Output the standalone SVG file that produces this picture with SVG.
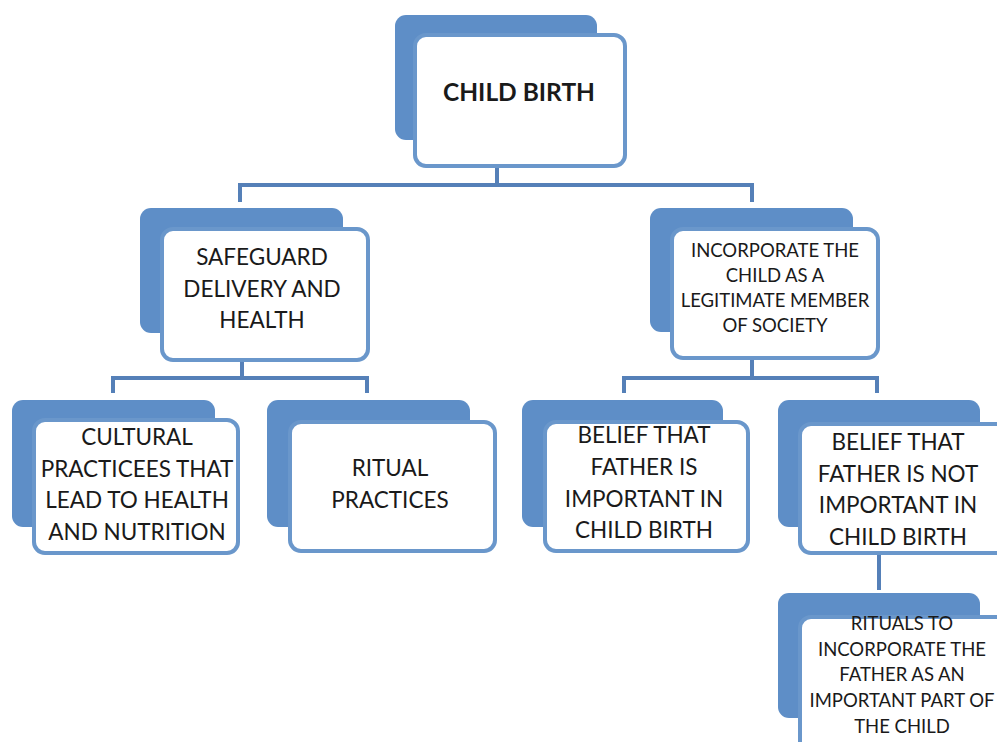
<svg xmlns="http://www.w3.org/2000/svg" width="997" height="742" viewBox="0 0 997 742">
<style>
.back{fill:#5e8ec7}
.front{fill:#ffffff;stroke:#6a97cb;stroke-width:4}
.conn{fill:none;stroke:#5580b8;stroke-width:4}
text{font-family:Lato,"Liberation Sans",sans-serif;fill:#1a1a1a;text-anchor:middle}
.big{font-size:22.5px}
.small{font-size:18.5px}
.title{font-size:24.5px;font-weight:bold}
</style>
<rect width="997" height="742" fill="#ffffff"/>
<g id="connectors">
<path class="conn" d="M497,168 V185 M240,202 V185 H752 V202"/>
<path class="conn" d="M242,362 V378 M113,393 V378 H367 V393"/>
<path class="conn" d="M752,360 V378 M624,393 V378 H877 V393"/>
<path class="conn" d="M879,555 V590"/>
</g>
<g id="child-birth">
<rect class="back" x="395" y="15" width="202" height="125" rx="11"/>
<rect class="front" x="415" y="35" width="210" height="131" rx="11"/>
<text class="title" x="519" y="101">CHILD BIRTH</text>
</g>
<g id="safeguard">
<rect class="back" x="140" y="208" width="203" height="125" rx="11"/>
<rect class="front" x="162" y="229" width="206" height="131" rx="11"/>
<text class="big" x="262" y="265">SAFEGUARD</text>
<text class="big" x="262" y="297">DELIVERY AND</text>
<text class="big" x="262" y="328">HEALTH</text>
</g>
<g id="incorporate">
<rect class="back" x="650" y="208" width="203" height="124" rx="11"/>
<rect class="front" x="672" y="229" width="206" height="129" rx="11"/>
<text class="small" x="775" y="257">INCORPORATE THE</text>
<text class="small" x="775" y="282">CHILD AS A</text>
<text class="small" x="775" y="307">LEGITIMATE MEMBER</text>
<text class="small" x="775" y="332">OF SOCIETY</text>
</g>
<g id="cultural">
<rect class="back" x="12" y="400" width="203" height="127" rx="11"/>
<rect class="front" x="34" y="420" width="204" height="133" rx="11"/>
<text class="big" x="137" y="445">CULTURAL</text>
<text class="big" x="137" y="477">PRACTICEES THAT</text>
<text class="big" x="137" y="508">LEAD TO HEALTH</text>
<text class="big" x="137" y="540">AND NUTRITION</text>
</g>
<g id="ritual-practices">
<rect class="back" x="267" y="400" width="203" height="127" rx="11"/>
<rect class="front" x="290" y="422" width="205" height="129" rx="11"/>
<text class="big" x="390" y="476">RITUAL</text>
<text class="big" x="390" y="508">PRACTICES</text>
</g>
<g id="father-important">
<rect class="back" x="522" y="400" width="201" height="127" rx="11"/>
<rect class="front" x="545" y="422" width="203" height="129" rx="11"/>
<text class="big" x="644" y="443">BELIEF THAT</text>
<text class="big" x="644" y="475">FATHER IS</text>
<text class="big" x="644" y="507">IMPORTANT IN</text>
<text class="big" x="644" y="538">CHILD BIRTH</text>
</g>
<g id="father-not-important">
<rect class="back" x="778" y="400" width="202" height="127" rx="11"/>
<rect class="front" x="800" y="424" width="210" height="129" rx="11"/>
<text class="big" x="898" y="450">BELIEF THAT</text>
<text class="big" x="898" y="482">FATHER IS NOT</text>
<text class="big" x="898" y="513">IMPORTANT IN</text>
<text class="big" x="898" y="545">CHILD BIRTH</text>
</g>
<g id="rituals-father">
<rect class="back" x="778" y="593" width="202" height="125" rx="11"/>
<rect class="front" x="800" y="617" width="210" height="140" rx="11"/>
<text class="small" x="902" y="630">RITUALS TO</text>
<text class="small" x="902" y="656">INCORPORATE THE</text>
<text class="small" x="902" y="681">FATHER AS AN</text>
<text class="small" x="902" y="707">IMPORTANT PART OF</text>
<text class="small" x="902" y="733">THE CHILD</text>
</g>
</svg>
